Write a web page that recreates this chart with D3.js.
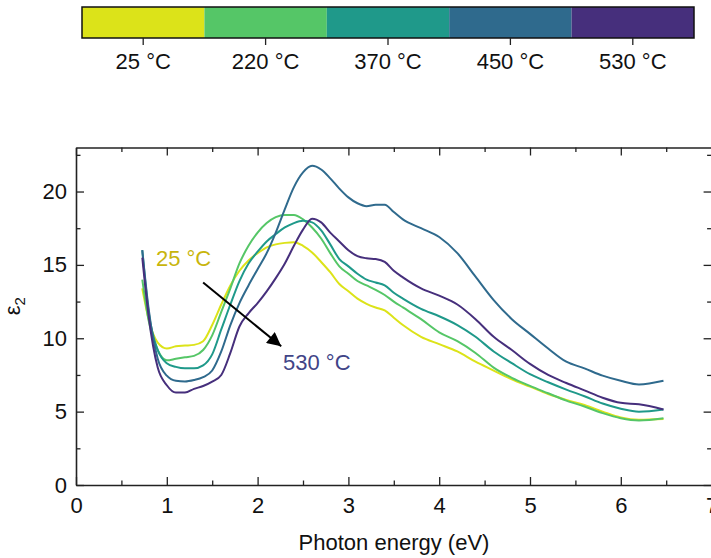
<!DOCTYPE html>
<html>
<head>
<meta charset="utf-8">
<script src="https://cdn.jsdelivr.net/npm/d3@7"></script>
<style>
  body { margin: 0; background: #fff; }
  svg { display: block; font-family: "Liberation Sans", Arial, sans-serif; }
</style>
</head>
<body>
<div id="chart"></div>
<script>
// temperatures shown in the colour bar
const temps = ["25 °C", "220 °C", "370 °C", "450 °C", "530 °C"];
const colors = ["#dce319", "#55c667", "#1f998a", "#2f6a8d", "#462f7c"];

// photon energy grid (eV)
const energy = [0.73, 0.8, 0.9, 1.0, 1.1, 1.2, 1.3, 1.4, 1.5, 1.6, 1.7, 1.8, 1.9, 2.0,
  2.1, 2.2, 2.3, 2.4, 2.5, 2.6, 2.7, 2.8, 2.9, 3.0, 3.1, 3.2, 3.3, 3.4, 3.5, 3.6,
  3.8, 4.0, 4.2, 4.4, 4.6, 4.8, 5.0, 5.2, 5.4, 5.6, 5.8, 6.0, 6.2, 6.47];

// epsilon_2 for each temperature
const eps25 = [13.4, 11.3, 9.7, 9.3, 9.45, 9.5, 9.55, 9.8, 10.9, 12.3, 13.6, 14.6, 15.3, 15.8,
  16.2, 16.4, 16.5, 16.55, 16.3, 15.85, 15.2, 14.5, 13.7, 13.2, 12.7, 12.35, 12.1, 11.9, 11.4, 10.9,
  10.1, 9.6, 9.1, 8.4, 7.8, 7.2, 6.7, 6.2, 5.8, 5.45, 5.0, 4.6, 4.45, 4.5];
const eps220 = [14.0, 11.2, 9.2, 8.5, 8.6, 8.7, 8.8, 9.2, 10.2, 11.8, 13.4, 15.1, 16.3, 17.2,
  17.85, 18.25, 18.4, 18.4, 18.1, 17.55, 16.8, 15.8, 14.9, 14.4, 13.9, 13.6, 13.3, 12.95, 12.5, 12.1,
  11.3, 10.4, 9.8, 9.0, 8.0, 7.3, 6.75, 6.25, 5.75, 5.35, 4.9, 4.55, 4.4, 4.55];
const eps370 = [16.0, 11.8, 9.2, 8.3, 8.05, 7.95, 7.95, 8.15, 8.9, 10.6, 12.3, 13.9, 15.1, 15.9,
  16.6, 17.1, 17.55, 17.85, 18.0, 17.9, 17.35, 16.4, 15.4, 14.9, 14.4, 14.0, 13.8, 13.6, 13.1, 12.7,
  12.0, 11.5, 10.9, 10.1, 9.1, 8.3, 7.55, 7.0, 6.5, 6.05, 5.55, 5.2, 5.0, 5.15];
const eps450 = [16.0, 12.0, 8.6, 7.45, 7.1, 7.05, 7.15, 7.35, 7.8, 9.1, 10.9, 12.4, 13.6, 14.7,
  15.8, 17.2, 18.8, 20.3, 21.3, 21.75, 21.5, 20.9, 20.2, 19.6, 19.2, 19.0, 19.1, 19.1, 18.6, 18.1,
  17.5, 16.9, 15.8, 14.2, 12.6, 11.3, 10.3, 9.3, 8.4, 7.95, 7.45, 7.1, 6.85, 7.1];
const eps530 = [15.5, 11.5, 8.0, 6.8, 6.3, 6.3, 6.55, 6.75, 7.05, 7.5, 9.0, 10.8, 11.7, 12.4,
  13.2, 14.1, 15.1, 16.3, 17.4, 18.15, 17.9, 17.2, 16.6, 16.0, 15.6, 15.45, 15.4, 15.2, 14.6, 14.15,
  13.4, 12.9, 12.3, 11.3, 10.1, 9.2, 8.25, 7.5, 6.95, 6.45, 5.95, 5.6, 5.5, 5.15];

const seriesValues = [eps25, eps220, eps370, eps450, eps530];

const xMajor = [0, 1, 2, 3, 4, 5, 6, 7];
const xMinor = [0.5, 1.5, 2.5, 3.5, 4.5, 5.5, 6.5];
const yMajor = [0, 5, 10, 15, 20];
const yMinor = [2.5, 7.5, 12.5, 17.5, 22.5];

const width = 711, height = 558;
const plotLeft = 76, plotRight = 711.6, plotTop = 147.5, plotBottom = 485;
const fontSize = 22;
const axisColor = "#222";

const svg = d3.select("#chart").append("svg")
  .attr("width", width)
  .attr("height", height);

// ---- colour bar ----
const bar = d3.scaleBand().domain(temps).range([82, 694]);
const barTop = 7, barBottom = 38;

svg.append("g").selectAll("rect")
  .data(temps)
  .join("rect")
  .attr("x", d => bar(d))
  .attr("y", barTop)
  .attr("width", bar.bandwidth())
  .attr("height", barBottom - barTop)
  .attr("fill", (d, i) => colors[i]);

svg.append("rect")
  .attr("x", 82).attr("y", barTop)
  .attr("width", 694 - 82).attr("height", barBottom - barTop)
  .attr("fill", "none").attr("stroke", "#111").attr("stroke-width", 1.5);

const barAxis = svg.append("g")
  .attr("transform", `translate(0,${barBottom})`)
  .call(d3.axisBottom(bar).tickSize(7).tickPadding(8).tickSizeOuter(0));
barAxis.select(".domain").remove();
barAxis.selectAll("line").attr("stroke", axisColor).attr("stroke-width", 1.3);
barAxis.selectAll("text").attr("font-size", fontSize).attr("fill", "#111");

// ---- main plot ----
const x = d3.scaleLinear().domain([0, 7]).range([plotLeft, plotRight]);
const y = d3.scaleLinear().domain([0, 23]).range([plotBottom, plotTop]);
const intFmt = d3.format("d");

function styleAxis(g) {
  g.selectAll("line").attr("stroke", axisColor).attr("stroke-width", 1.3);
  g.selectAll("path").attr("stroke", axisColor).attr("stroke-width", 1.6);
  g.selectAll("text").attr("font-size", fontSize).attr("fill", "#111");
}

// minor ticks
const minorSets = [
  [d3.axisBottom(x).tickValues(xMinor).tickSize(-4.5), `translate(0,${plotBottom})`],
  [d3.axisTop(x).tickValues(xMinor).tickSize(-4.5), `translate(0,${plotTop})`],
  [d3.axisLeft(y).tickValues(yMinor).tickSize(-4.5), `translate(${plotLeft},0)`],
  [d3.axisRight(y).tickValues(yMinor).tickSize(-4.5), `translate(${plotRight},0)`]
];
minorSets.forEach(([ax, tr]) => {
  const g = svg.append("g").attr("transform", tr).call(ax.tickFormat(""));
  g.select(".domain").remove();
  styleAxis(g);
});

svg.append("g").attr("transform", `translate(0,${plotTop})`)
  .call(d3.axisTop(x).tickValues(xMajor).tickSize(-8).tickSizeOuter(0).tickFormat(""))
  .call(styleAxis);
svg.append("g").attr("transform", `translate(${plotRight},0)`)
  .call(d3.axisRight(y).tickValues(yMajor).tickSize(-8).tickSizeOuter(0).tickFormat(""))
  .call(styleAxis);
svg.append("g").attr("transform", `translate(0,${plotBottom})`)
  .call(d3.axisBottom(x).tickValues(xMajor).tickSize(-8).tickSizeOuter(0).tickPadding(12).tickFormat(intFmt))
  .call(styleAxis);
svg.append("g").attr("transform", `translate(${plotLeft},0)`)
  .call(d3.axisLeft(y).tickValues(yMajor).tickSize(-8).tickSizeOuter(0).tickPadding(9).tickFormat(intFmt))
  .call(styleAxis);

// curves
const line = d3.line()
  .x(d => x(d[0]))
  .y(d => y(d[1]))
  .curve(d3.curveMonotoneX);

svg.append("g").selectAll("path")
  .data(seriesValues)
  .join("path")
  .attr("d", vals => line(energy.map((e, i) => [e, vals[i]])))
  .attr("fill", "none")
  .attr("stroke", (d, i) => colors[i])
  .attr("stroke-width", 2);

// annotation
svg.append("defs").append("marker")
  .attr("id", "arrow")
  .attr("viewBox", "0 0 10 10")
  .attr("refX", 10).attr("refY", 5)
  .attr("markerWidth", 8).attr("markerHeight", 7)
  .attr("markerUnits", "strokeWidth")
  .attr("orient", "auto")
  .append("path")
  .attr("d", "M0,0 L10,5 L0,10 Z")
  .attr("fill", "#000");

svg.append("line")
  .attr("x1", x(1.4)).attr("y1", y(13.8))
  .attr("x2", x(2.26)).attr("y2", y(9.45))
  .attr("stroke", "#000").attr("stroke-width", 2)
  .attr("marker-end", "url(#arrow)");

svg.append("text")
  .attr("x", x(0.88)).attr("y", y(14.9))
  .attr("font-size", fontSize).attr("fill", "#c8b50c")
  .text(temps[0]);

svg.append("text")
  .attr("x", x(2.28)).attr("y", y(7.85))
  .attr("font-size", fontSize).attr("fill", "#414487")
  .text(temps[4]);

// axis titles
svg.append("text")
  .attr("x", 394).attr("y", 550)
  .attr("text-anchor", "middle")
  .attr("font-size", fontSize).attr("fill", "#111")
  .text("Photon energy (eV)");

const yl = svg.append("text")
  .attr("transform", `translate(20,${(plotTop + plotBottom) / 2 - 10}) rotate(-90)`)
  .attr("text-anchor", "middle")
  .attr("font-size", fontSize).attr("fill", "#111");
yl.append("tspan").text("ε");
yl.append("tspan").attr("font-size", 15).attr("dy", 5).text("2");
</script>
</body>
</html>
